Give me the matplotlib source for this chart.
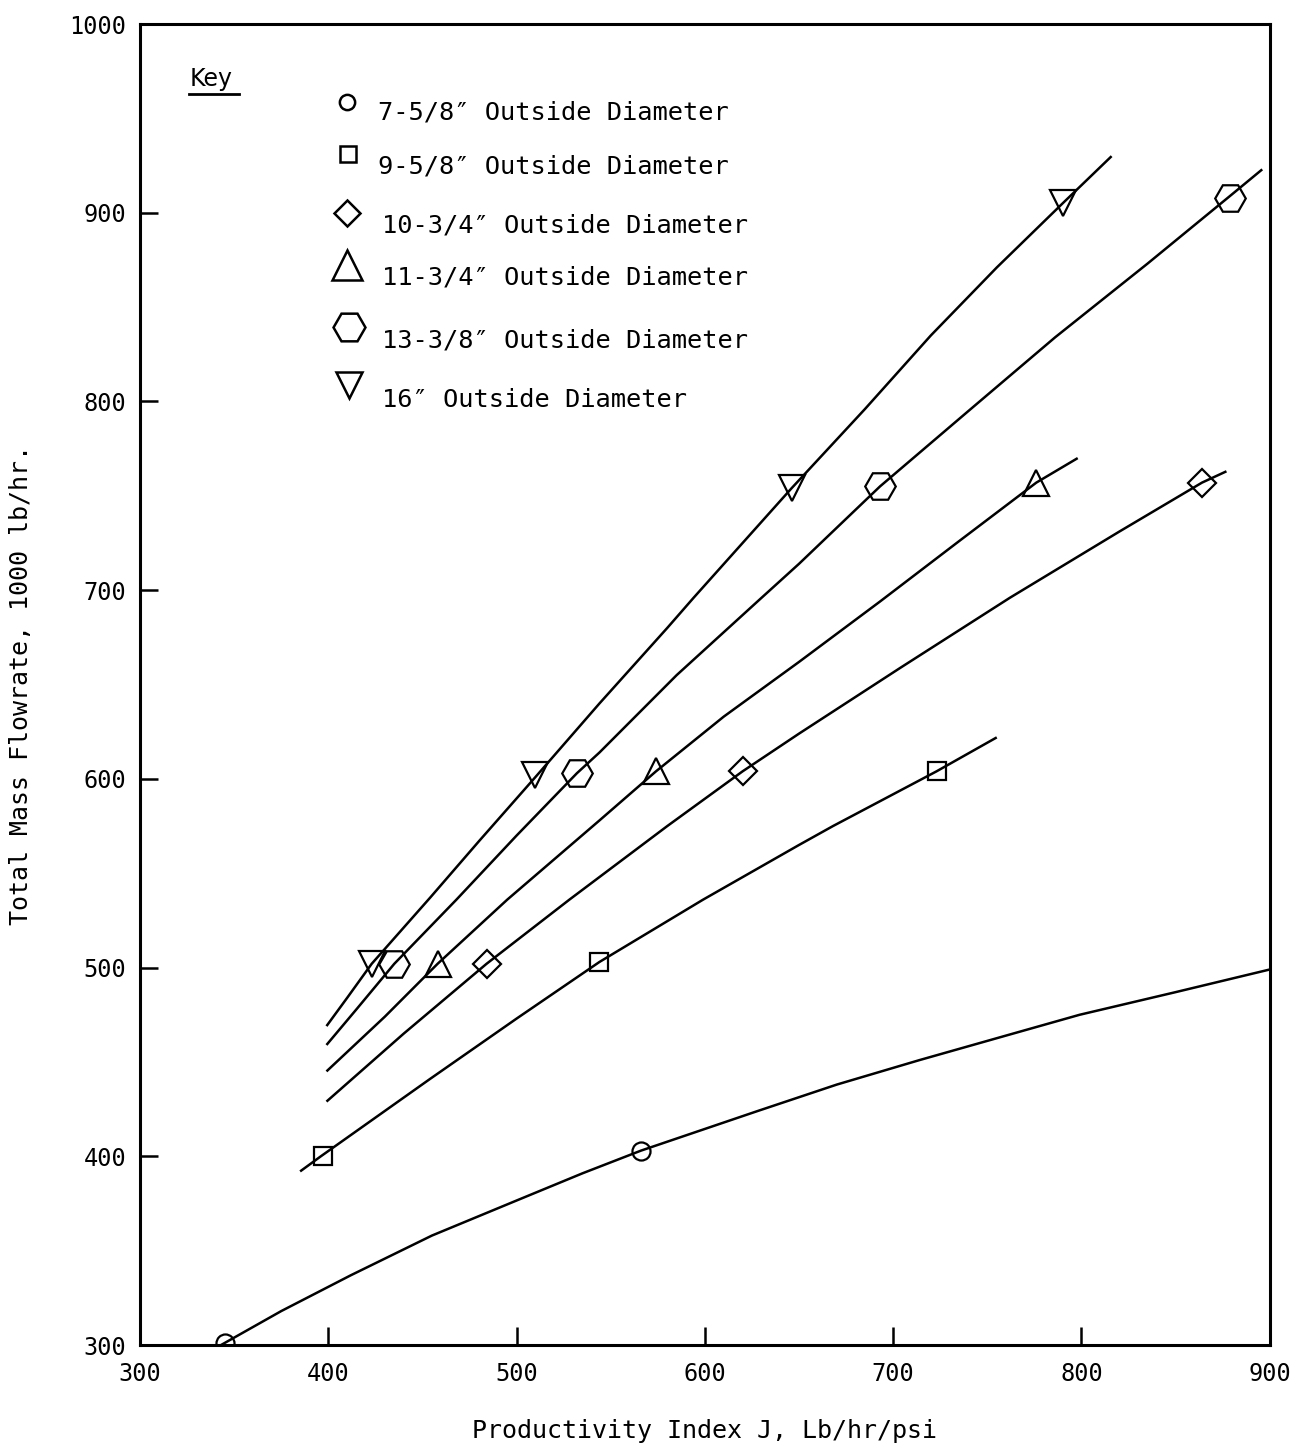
import matplotlib
matplotlib.use("Agg")
import matplotlib.pyplot as plt

# Series names for the key
labels = [
    "7-5/8\u2033 Outside Diameter",
    "9-5/8\u2033 Outside Diameter",
    "10-3/4\u2033 Outside Diameter",
    "11-3/4\u2033 Outside Diameter",
    "13-3/8\u2033 Outside Diameter",
    "16\u2033 Outside Diameter",
]

# Curves (productivity index J, total mass flowrate)
od7_curve_x = [343, 375, 412, 455, 501, 535, 566, 628, 670, 714, 760, 799, 850, 900]
od7_curve_y = [300, 318, 337, 358, 377, 391, 403, 424, 438, 451, 464, 475, 487, 499]
od9_curve_x = [385, 396, 454, 500, 544, 599, 650, 668, 723, 755]
od9_curve_y = [392, 400, 441, 473, 503, 536, 565, 575, 604, 622]
od10_curve_x = [399, 440, 484, 528, 544, 580, 620, 650, 704, 762, 820, 864, 877]
od10_curve_y = [429, 465, 502, 536, 548, 575, 604, 624, 659, 696, 731, 757, 763]
od11_curve_x = [399, 430, 458, 495, 544, 574, 610, 650, 693, 735, 776, 798]
od11_curve_y = [445, 474, 502, 536, 578, 604, 633, 662, 694, 726, 757, 770]
od13_curve_x = [399, 415, 435, 468, 500, 532, 544, 585, 629, 650, 693, 740, 786, 835, 879, 896]
od13_curve_y = [459, 478, 502, 536, 570, 603, 614, 655, 695, 714, 755, 795, 834, 873, 909, 923]
od16_curve_x = [399, 410, 423, 454, 480, 510, 544, 580, 594, 620, 646, 685, 720, 755, 790, 816]
od16_curve_y = [469, 484, 502, 537, 567, 601, 640, 680, 696, 725, 754, 796, 835, 871, 905, 930]

# Plotted points
od7_pts_x = [345, 566]
od7_pts_y = [301, 403]
od9_pts_x = [397, 544, 723]
od9_pts_y = [400, 503, 604]
od10_pts_x = [484, 620, 864]
od10_pts_y = [502, 604, 757]
od11_pts_x = [458, 574, 776]
od11_pts_y = [502, 604, 757]
od13_pts_x = [435, 532, 693, 879]
od13_pts_y = [502, 603, 755, 908]
od16_pts_x = [423, 510, 646, 790]
od16_pts_y = [502, 602, 754, 905]

x_ticks = [300, 400, 500, 600, 700, 800, 900]
y_ticks = [300, 400, 500, 600, 700, 800, 900, 1000]

curves = [
    (od7_curve_x, od7_curve_y, od7_pts_x, od7_pts_y, "o", 13),
    (od9_curve_x, od9_curve_y, od9_pts_x, od9_pts_y, "s", 13),
    (od10_curve_x, od10_curve_y, od10_pts_x, od10_pts_y, "D", 14),
    (od11_curve_x, od11_curve_y, od11_pts_x, od11_pts_y, "^", 19),
    (od13_curve_x, od13_curve_y, od13_pts_x, od13_pts_y, "H", 22),
    (od16_curve_x, od16_curve_y, od16_pts_x, od16_pts_y, "v", 19),
]

mono = "DejaVu Sans Mono"

fig = plt.figure(figsize=(12.97, 14.5), dpi=100)
ax = fig.add_axes([0.108, 0.0724, 0.871, 0.911])

for cx, cy, px, py, mk, ms in curves:
    ax.plot(cx, cy, color="black", lw=1.8, solid_capstyle="butt",
            solid_joinstyle="round")
    ax.plot(px, py, linestyle="none", marker=mk, ms=ms, mfc="none",
            mec="black", mew=1.6)

ax.set_xlim(300, 900)
ax.set_ylim(300, 1000)
ax.set_xticks(x_ticks)
ax.set_yticks(y_ticks)
ax.set_xticklabels([str(v) for v in x_ticks], fontsize=17, family=mono)
ax.set_yticklabels([str(v) for v in y_ticks], fontsize=17, family=mono)
ax.tick_params(axis="both", direction="in", length=13, width=1.8)
ax.tick_params(axis="x", pad=12)
ax.tick_params(axis="y", pad=10)
# corner values have labels but no tick marks
for t in (ax.xaxis.get_major_ticks()[0], ax.xaxis.get_major_ticks()[-1],
          ax.yaxis.get_major_ticks()[0], ax.yaxis.get_major_ticks()[-1]):
    t.tick1line.set_visible(False)

for sp in ax.spines.values():
    sp.set_linewidth(2.2)

ax.set_xlabel("Productivity Index J, Lb/hr/psi", fontsize=18, family=mono,
              labelpad=24)
ax.set_ylabel("Total Mass Flowrate, 1000 lb/hr.", fontsize=18, family=mono,
              labelpad=26)

# Key
ax.text(0.0440, 0.9531, "Key", transform=ax.transAxes, fontsize=17,
        ha="left", va="baseline")
ax.plot([0.0434, 0.0876], [0.9472, 0.9472], transform=ax.transAxes,
        color="black", lw=2)

key_marker_pos = [(0.1835, 0.9412), (0.1843, 0.9014), (0.1835, 0.8567),
                  (0.1829, 0.8176), (0.1852, 0.7709), (0.1852, 0.7267)]
key_marker_size = [11, 12, 13, 21, 23, 19]
key_text_pos = [(0.2109, 0.9281), (0.2109, 0.8872), (0.2139, 0.8425),
                (0.2139, 0.8032), (0.2139, 0.7555), (0.2139, 0.7101)]

for (cx, cy, px, py, mk, ms), lab, mpos, msz, tpos in zip(
        curves, labels, key_marker_pos, key_marker_size, key_text_pos):
    ax.plot([mpos[0]], [mpos[1]], transform=ax.transAxes, marker=mk,
            ms=msz, mfc="none", mec="black", mew=1.8, linestyle="none")
    ax.text(tpos[0], tpos[1], lab, transform=ax.transAxes, fontsize=18.3,
            family=mono, ha="left", va="baseline")

fig.savefig("out.png", dpi=100)
